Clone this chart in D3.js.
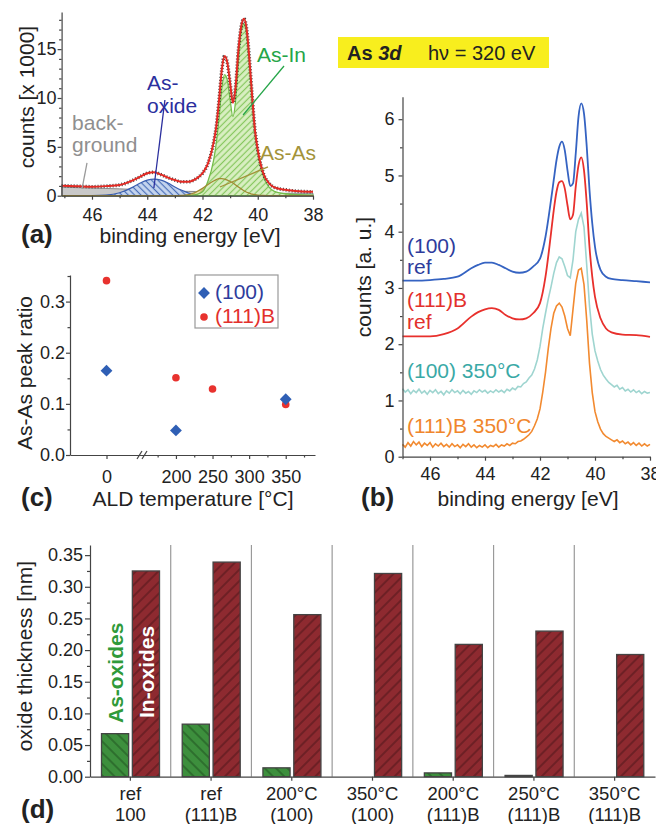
<!DOCTYPE html>
<html>
<head>
<meta charset="utf-8">
<script src="https://cdn.jsdelivr.net/npm/d3@7"></script>
<style>
body { margin: 0; background: #fff; }
text { font-family: "Liberation Sans", Arial, sans-serif; fill: #222; }
.axis path, .axis line { stroke: #444; stroke-width: 1.2; }
.axis text { font-size: 18px; fill: #222; }
</style>
</head>
<body>
<svg id="fig" width="656" height="824"></svg>
<script>
// ---- panel (a): As 3d fit, counts x1000 ----
const energyA = [47.1, 46.5, 46, 45.5, 45, 44.5, 44.25, 44, 43.75, 43.5, 43.25, 43, 42.75, 42.5, 42.25, 42,
    41.8, 41.6, 41.5, 41.4, 41.3, 41.2, 41.1, 41.0, 40.9, 40.8, 40.7, 40.6, 40.5, 40.4, 40.3, 40.2, 40.1, 40.0,
    39.8, 39.6, 39.4, 39, 38.5, 38];
const envelopeA = [1.02, 0.97, 0.92, 0.98, 1.1, 1.6, 1.95, 2.3, 2.4, 2.15, 1.85, 1.6, 1.42, 1.43, 1.7, 2.3,
    3.3, 5.4, 7.1, 9.8, 12.9, 14.3, 13.6, 11.5, 9.5, 11.2, 14.9, 17.3, 18.1, 17.0, 13.9, 10.1, 6.7, 4.7,
    2.3, 1.3, 0.85, 0.6, 0.45, 0.4];
const backgroundA = [0.88, 0.82, 0.78, 0.74, 0.7, 0.64, 0.6, 0.56, 0.53, 0.5, 0.48, 0.46, 0.45, 0.44, 0.43, 0.42,
    0.41, 0.4, 0.39, 0.38, 0.37, 0.36, 0.35, 0.34, 0.33, 0.32, 0.31, 0.3, 0.29, 0.28, 0.27, 0.26, 0.26, 0.25,
    0.25, 0.25, 0.25, 0.25, 0.25, 0.25];
const asOxideA = [0, 0, 0.01, 0.06, 0.3, 0.9, 1.3, 1.6, 1.7, 1.6, 1.3, 0.9, 0.55, 0.27, 0.1, 0.03,
    0.01, 0, 0, 0, 0, 0, 0, 0, 0, 0, 0, 0, 0, 0, 0, 0, 0, 0,
    0, 0, 0, 0, 0, 0];
const asAsA = [0, 0, 0, 0, 0, 0, 0, 0, 0, 0, 0, 0, 0.03, 0.1, 0.35, 0.75,
    1.15, 1.5, 1.65, 1.75, 1.75, 1.7, 1.6, 1.45, 1.3, 1.1, 0.9, 0.7, 0.5, 0.35, 0.25, 0.15, 0.1, 0.06,
    0.02, 0, 0, 0, 0, 0];
const asInA = [0, 0, 0, 0, 0, 0, 0, 0, 0, 0, 0, 0, 0, 0, 0.1, 0.4,
    1.5, 3.6, 5.4, 8.0, 11.0, 12.4, 11.8, 9.8, 8.1, 9.8, 13.8, 16.8, 17.6, 16.5, 13.5, 9.8, 6.5, 4.4,
    2.0, 0.9, 0.45, 0.2, 0.1, 0.05];

// ---- panel (b): stacked spectra, a.u. ----
const ref100 = [3.13, 3.13, 3.14, 3.16, 3.2, 3.35, 3.41, 3.45, 3.45, 3.41, 3.35, 3.29, 3.27, 3.29, 3.38, 3.52,
    3.91, 4.56, 4.92, 5.27, 5.51, 5.6, 5.45, 5.09, 4.81, 4.86, 5.39, 6.04, 6.28, 6.1, 5.51, 4.74, 4.15, 3.73,
    3.32, 3.2, 3.16, 3.14, 3.12, 3.1];
const ref111B = [2.14, 2.14, 2.14, 2.18, 2.28, 2.49, 2.57, 2.62, 2.64, 2.61, 2.52, 2.46, 2.44, 2.46, 2.55, 2.73,
    3.2, 3.97, 4.38, 4.71, 4.88, 4.9, 4.77, 4.47, 4.22, 4.3, 4.8, 5.18, 5.32, 5.09, 4.5, 3.73, 3.2, 2.84,
    2.46, 2.28, 2.21, 2.17, 2.16, 2.13];
// 47.0 eV down to 38.0 eV in 0.1 eV steps
const energyNoisy = d3.range(470, 379, -1).map(d => d / 10);
const t350_100 = [1.21, 1.15, 1.19, 1.12, 1.18, 1.14, 1.20, 1.13, 1.17, 1.11,
    1.18, 1.14, 1.19, 1.12, 1.16, 1.10, 1.17, 1.13, 1.19, 1.14,
    1.17, 1.12, 1.18, 1.13, 1.16, 1.11, 1.17, 1.14, 1.19, 1.15,
    1.18, 1.13, 1.17, 1.14, 1.19, 1.15, 1.18, 1.14, 1.20, 1.17,
    1.22, 1.19, 1.25, 1.24, 1.30, 1.33, 1.40, 1.45, 1.56, 1.72,
    1.96, 2.28, 2.55, 2.80, 3.02, 3.26, 3.45, 3.55, 3.52, 3.38,
    3.22, 3.18, 3.50, 4.00, 4.22, 4.33, 4.08, 3.40, 2.68, 2.18,
    1.88, 1.70, 1.55, 1.45, 1.38, 1.32, 1.28, 1.24, 1.27, 1.20,
    1.23, 1.17, 1.20, 1.15, 1.19, 1.14, 1.17, 1.12, 1.16, 1.13, 1.14];
const t350_111B = [0.22, 0.17, 0.25, 0.19, 0.27, 0.21, 0.26, 0.18, 0.24, 0.20,
    0.25, 0.17, 0.23, 0.19, 0.24, 0.18, 0.22, 0.17, 0.23, 0.18,
    0.21, 0.16, 0.22, 0.18, 0.23, 0.17, 0.21, 0.16, 0.20, 0.17,
    0.21, 0.16, 0.20, 0.18, 0.22, 0.17, 0.21, 0.19, 0.23, 0.20,
    0.24, 0.23, 0.27, 0.28, 0.31, 0.35, 0.39, 0.45, 0.55, 0.67,
    0.85, 1.15, 1.50, 1.92, 2.28, 2.55, 2.68, 2.73, 2.66, 2.50,
    2.28, 2.15, 2.62, 3.08, 3.32, 3.35, 3.06, 2.42, 1.66, 1.14,
    0.80, 0.62, 0.49, 0.41, 0.36, 0.33, 0.30, 0.27, 0.30, 0.25,
    0.28, 0.23, 0.26, 0.21, 0.25, 0.20, 0.24, 0.19, 0.23, 0.19, 0.22];

// ---- panel (c): As-As peak ratio ----
const aldTemp100 = [0, 200, 350];
const ratio100 = [0.165, 0.048, 0.109];
const aldTemp111B = [0, 200, 250, 350];
const ratio111B = [0.341, 0.151, 0.129, 0.099];

// ---- panel (d): oxide thickness [nm] ----
const sampleTop = ["ref", "ref", "200°C", "350°C", "200°C", "250°C", "350°C"];
const sampleBottom = ["100", "(111)B", "(100)", "(100)", "(111)B", "(111)B", "(111)B"];
const asOxides = [0.068, 0.083, 0.014, 0, 0.006, 0.002, 0];
const inOxides = [0.325, 0.339, 0.256, 0.321, 0.209, 0.230, 0.193];

const svg = d3.select("#fig");
const defs = svg.append("defs");

// hatch pattern: background colour plus one line, rotated
function hatch(id, bg, line, angle, gap, lw) {
    const p = defs.append("pattern")
        .attr("id", id)
        .attr("patternUnits", "userSpaceOnUse")
        .attr("width", gap).attr("height", gap)
        .attr("patternTransform", "rotate(" + angle + ")");
    p.append("rect").attr("width", gap).attr("height", gap).attr("fill", bg);
    p.append("line")
        .attr("x1", gap / 2).attr("y1", 0).attr("x2", gap / 2).attr("y2", gap)
        .attr("stroke", line).attr("stroke-width", lw);
}
hatch("hBlue", "#c6d6ef", "#4a6fb8", -45, 4.5, 1.2);
hatch("hGreen", "#d9efc2", "#86c75e", 45, 4.5, 1.2);
hatch("hOlive", "#ebe3ad", "#a8973f", 45, 4, 1.1);
hatch("hAs", "#3d8f3d", "#1f4f1f", -45, 8, 1);
hatch("hIn", "#8e2a30", "#4d1619", 45, 8, 1);

function minorTicks(g, axis) {
    g.append("g").attr("class", "axis").call(axis).call(s => s.select(".domain").remove());
}

// =================== (a) ===================
const xA = d3.scaleLinear().domain([47.1, 38]).range([61.6, 313]);
const yA = d3.scaleLinear().domain([0, 18.8]).range([195.7, 12]);
const gA = svg.append("g");

const areaA = d3.area()
    .x((d, i) => xA(energyA[i]))
    .y0(yA(0))
    .y1(d => yA(d))
    .curve(d3.curveMonotoneX);
const lineA = d3.line()
    .x((d, i) => xA(energyA[i]))
    .y(d => yA(d))
    .curve(d3.curveMonotoneX);

gA.append("path").attr("d", areaA(backgroundA)).attr("fill", "#c9c9c9").attr("stroke", "#8a8a8a").attr("stroke-width", 1);
gA.append("path").attr("d", areaA(asOxideA)).attr("fill", "url(#hBlue)").attr("stroke", "#3a5fb0").attr("stroke-width", 1.2);
gA.append("path").attr("d", areaA(asAsA)).attr("fill", "url(#hOlive)").attr("stroke", "none");
gA.append("path").attr("d", areaA(asInA)).attr("fill", "url(#hGreen)").attr("stroke", "#74bd4a").attr("stroke-width", 1.3);
gA.append("path").attr("d", lineA(asAsA)).attr("fill", "none").attr("stroke", "#a08a32").attr("stroke-width", 1.3);
// measured points (dotted) under the red fit envelope
gA.append("path").attr("d", lineA(envelopeA)).attr("fill", "none")
    .attr("stroke", "#3a3a3a").attr("stroke-width", 3.6).attr("stroke-dasharray", "1,2");
gA.append("path").attr("d", lineA(envelopeA)).attr("fill", "none").attr("stroke", "#e42a24").attr("stroke-width", 2);

gA.append("g").attr("class", "axis").attr("transform", "translate(0," + yA(0) + ")")
    .call(d3.axisBottom(xA).tickValues([46, 44, 42, 40, 38]).tickSize(4).tickSizeOuter(0).tickPadding(9));
minorTicks(gA.append("g").attr("transform", "translate(0," + yA(0) + ")"),
    d3.axisBottom(xA).tickValues([47, 45, 43, 41, 39]).tickSize(2.5).tickFormat(""));
gA.append("g").attr("class", "axis").attr("transform", "translate(" + xA(47.1) + ",0)")
    .call(d3.axisLeft(yA).tickValues([0, 5, 10, 15]).tickSize(4).tickSizeOuter(0).tickPadding(1));
minorTicks(gA.append("g").attr("transform", "translate(" + xA(47.1) + ",0)"),
    d3.axisLeft(yA).tickValues([1, 2, 3, 4, 6, 7, 8, 9, 11, 12, 13, 14, 16, 17, 18]).tickSize(2.5).tickFormat(""));

// annotations (a)
function note(g, x, y, txt, color) {
    g.append("text").attr("x", x).attr("y", y).attr("font-size", 21).style("fill", color).text(txt);
}
function leader(g, x1, y1, x2, y2, color) {
    g.append("line").attr("x1", x1).attr("y1", y1).attr("x2", x2).attr("y2", y2)
        .attr("stroke", color).attr("stroke-width", 1.3);
}
note(gA, xA(40.03), yA(13.68), "As-In", "#25a548");
leader(gA, xA(39.05), yA(13.27), xA(40.53), yA(8.26), "#25a548");
note(gA, xA(44.01), yA(10.82), "As-", "#2b2f9e");
note(gA, xA(44.01), yA(8.46), "oxide", "#2b2f9e");
leader(gA, xA(43.36), yA(9.79), xA(43.76), yA(0.79), "#2b2f9e");
note(gA, xA(46.72), yA(6.72), "back-", "#8f8f8f");
note(gA, xA(46.72), yA(4.47), "ground", "#8f8f8f");
leader(gA, xA(46.18), yA(3.35), xA(46.36), yA(0.69), "#9a9a9a");
note(gA, xA(39.92), yA(3.65), "As-As", "#a39339");
leader(gA, xA(39.63), yA(2.94), xA(41.37), yA(0.89), "#a39339");

gA.append("text").attr("transform", "translate(27,97) rotate(-90)").attr("dy", "0.35em")
    .attr("text-anchor", "middle").attr("font-size", 21).text("counts [x 1000]");
gA.append("text").attr("x", 190).attr("y", 243).attr("text-anchor", "middle").attr("font-size", 21).text("binding energy [eV]");
gA.append("text").attr("x", 21).attr("y", 243).attr("font-size", 26).attr("font-weight", "bold").text("(a)");

// header box
svg.append("rect").attr("x", 338).attr("y", 37).attr("width", 211).attr("height", 31).attr("fill", "#f8ee1e");
const head = svg.append("text").attr("x", 347).attr("y", 59.5).attr("font-size", 20);
head.append("tspan").attr("font-weight", "bold").text("As ");
head.append("tspan").attr("font-weight", "bold").attr("font-style", "italic").text("3d");
svg.append("text").attr("x", 428).attr("y", 59.5).attr("font-size", 20).text("hν = 320 eV");

// =================== (b) ===================
const xB = d3.scaleLinear().domain([47, 38]).range([402.5, 650]);
const yB = d3.scaleLinear().domain([0, 6.4]).range([456.7, 96.7]);
const gB = svg.append("g");

const smoothB = d3.line().x((d, i) => xB(energyA[i] > 47 ? 47 : energyA[i])).y(d => yB(d)).curve(d3.curveMonotoneX);
const noisyB = d3.line().x((d, i) => xB(energyNoisy[i])).y(d => yB(d));

gB.append("path").attr("d", noisyB(t350_111B)).attr("fill", "none").attr("stroke", "#f28a30").attr("stroke-width", 1.6);
gB.append("path").attr("d", noisyB(t350_100)).attr("fill", "none").attr("stroke", "#9fd5d0").attr("stroke-width", 1.6);
gB.append("path").attr("d", smoothB(ref111B)).attr("fill", "none").attr("stroke", "#e8302c").attr("stroke-width", 1.8);
gB.append("path").attr("d", smoothB(ref100)).attr("fill", "none").attr("stroke", "#3563c2").attr("stroke-width", 1.8);

gB.append("g").attr("class", "axis").attr("transform", "translate(0," + yB(0) + ")")
    .call(d3.axisBottom(xB).tickValues([46, 44, 42, 40, 38]).tickSize(4).tickSizeOuter(0).tickPadding(7));
minorTicks(gB.append("g").attr("transform", "translate(0," + yB(0) + ")"),
    d3.axisBottom(xB).tickValues([47, 45, 43, 41, 39]).tickSize(2.5).tickFormat(""));
gB.append("g").attr("class", "axis").attr("transform", "translate(" + xB(47) + ",0)")
    .call(d3.axisLeft(yB).tickValues([0, 1, 2, 3, 4, 5, 6]).tickFormat(d3.format("d"))
        .tickSize(4).tickSizeOuter(0).tickPadding(4));
minorTicks(gB.append("g").attr("transform", "translate(" + xB(47) + ",0)"),
    d3.axisLeft(yB).tickValues([0.5, 1.5, 2.5, 3.5, 4.5, 5.5]).tickSize(2.5).tickFormat(""));

note(gB, 407, 253, "(100)", "#2e3c9c");
note(gB, 407, 274, "ref", "#2e3c9c");
note(gB, 407, 307, "(111)B", "#e3302c");
note(gB, 407, 329, "ref", "#e3302c");
note(gB, 407, 378, "(100) 350°C", "#3aa9a6");
note(gB, 407, 433, "(111)B 350°C", "#f0862c");

gB.append("text").attr("transform", "translate(364,277) rotate(-90)").attr("dy", "0.35em")
    .attr("text-anchor", "middle").attr("font-size", 21).text("counts [a. u.]");
gB.append("text").attr("x", 528).attr("y", 506).attr("text-anchor", "middle").attr("font-size", 21).text("binding energy [eV]");
gB.append("text").attr("x", 361).attr("y", 506).attr("font-size", 26).attr("font-weight", "bold").text("(b)");

// =================== (c) ===================
const xC = d3.scaleLinear().domain([-50, 50, 155, 390]).range([70, 143, 143, 315]);
const yC = d3.scaleLinear().domain([0, 0.352]).range([455, 275]);
const gC = svg.append("g");

gC.append("g").attr("class", "axis").attr("transform", "translate(0," + yC(0) + ")")
    .call(d3.axisBottom(xC).tickValues([0, 200, 250, 300, 350]).tickSize(4).tickSizeOuter(0).tickPadding(11));
minorTicks(gC.append("g").attr("transform", "translate(0," + yC(0) + ")"),
    d3.axisBottom(xC).tickValues([175, 225, 275, 325, 375]).tickSize(2.5).tickFormat(""));
gC.append("g").attr("class", "axis").attr("transform", "translate(70,0)")
    .call(d3.axisLeft(yC).tickValues([0, 0.1, 0.2, 0.3]).tickFormat(d3.format(".1f")).tickSize(4).tickSizeOuter(0).tickPadding(1));
minorTicks(gC.append("g").attr("transform", "translate(70,0)"),
    d3.axisLeft(yC).tickValues([0.05, 0.15, 0.25, 0.35]).tickSize(2.5).tickFormat(""));

// axis break
[139.5, 144.5].forEach(bx => {
    gC.append("line").attr("x1", bx - 2.5).attr("y1", yC(0) + 4).attr("x2", bx + 2.5).attr("y2", yC(0) - 4)
        .attr("stroke", "#444").attr("stroke-width", 1.2);
});

const diamond = d3.symbol(d3.symbolSquare, 70);
gC.selectAll(".p111").data(aldTemp111B).enter().append("circle")
    .attr("cx", d => xC(d)).attr("cy", (d, i) => yC(ratio111B[i])).attr("r", 3.8).attr("fill", "#e8322e");
gC.selectAll(".p100").data(aldTemp100).enter().append("path")
    .attr("transform", (d, i) => "translate(" + xC(d) + "," + yC(ratio100[i]) + ") rotate(45)")
    .attr("d", diamond).attr("fill", "#2f5fb5");

gC.append("rect").attr("x", 195).attr("y", 275).attr("width", 83).attr("height", 53)
    .attr("fill", "#fff").attr("stroke", "#999").attr("stroke-width", 1.2);
gC.append("path").attr("transform", "translate(204,293) rotate(45)").attr("d", diamond).attr("fill", "#2f5fb5");
gC.append("circle").attr("cx", 204).attr("cy", 317).attr("r", 3.8).attr("fill", "#e8322e");
note(gC, 215, 299, "(100)", "#2e3c9c");
note(gC, 215, 323, "(111)B", "#e3302c");

gC.append("text").attr("transform", "translate(25,373) rotate(-90)").attr("dy", "0.35em")
    .attr("text-anchor", "middle").attr("font-size", 21).text("As-As peak ratio");
gC.append("text").attr("x", 193).attr("y", 506).attr("text-anchor", "middle").attr("font-size", 21).text("ALD temperature [°C]");
gC.append("text").attr("x", 21).attr("y", 506).attr("font-size", 26).attr("font-weight", "bold").text("(c)");

// =================== (d) ===================
const xD = d3.scaleBand().domain(sampleTop.map((d, i) => i)).range([90, 655]);
const inner = d3.scaleBand().domain(["As", "In"]).range([11.5, 69.5]).paddingInner(0.12);
const yD = d3.scaleLinear().domain([0, 0.366]).range([776.7, 545]);
const gD = svg.append("g");

// group separators
gD.selectAll(".sep").data(xD.domain().slice(1)).enter().append("line")
    .attr("x1", d => xD(d)).attr("x2", d => xD(d)).attr("y1", yD(0)).attr("y2", 545)
    .attr("stroke", "#9a9a9a").attr("stroke-width", 1.2);

const asBars = asOxides.map((v, i) => ({ v: v, i: i })).filter(d => d.v > 0);
gD.selectAll(".barAs").data(asBars).enter().append("rect")
    .attr("x", d => xD(d.i) + inner("As"))
    .attr("y", d => yD(d.v)).attr("width", inner.bandwidth()).attr("height", d => yD(0) - yD(d.v))
    .attr("fill", "url(#hAs)").attr("stroke", "#444").attr("stroke-width", 1.3);
gD.selectAll(".barIn").data(inOxides).enter().append("rect")
    .attr("x", (d, i) => xD(i) + inner("In"))
    .attr("y", d => yD(d)).attr("width", inner.bandwidth()).attr("height", d => yD(0) - yD(d))
    .attr("fill", "url(#hIn)").attr("stroke", "#444").attr("stroke-width", 1.3);

gD.append("g").attr("class", "axis").attr("transform", "translate(0," + yD(0) + ")")
    .call(d3.axisBottom(xD).tickSize(4).tickSizeOuter(0).tickFormat(""));
gD.append("g").attr("class", "axis").attr("transform", "translate(90,0)")
    .call(d3.axisLeft(yD).tickValues([0, 0.05, 0.1, 0.15, 0.2, 0.25, 0.3, 0.35]).tickFormat(d3.format(".2f"))
        .tickSize(5).tickSizeOuter(0).tickPadding(2));
minorTicks(gD.append("g").attr("transform", "translate(90,0)"),
    d3.axisLeft(yD).tickValues([0.025, 0.075, 0.125, 0.175, 0.225, 0.275, 0.325]).tickSize(3).tickFormat(""));

gD.selectAll(".lab1").data(sampleTop).enter().append("text")
    .attr("x", (d, i) => xD(i) + xD.bandwidth() / 2).attr("y", 800)
    .attr("text-anchor", "middle").attr("font-size", 18.5).text(d => d);
gD.selectAll(".lab2").data(sampleBottom).enter().append("text")
    .attr("x", (d, i) => xD(i) + xD.bandwidth() / 2).attr("y", 821)
    .attr("text-anchor", "middle").attr("font-size", 18.5).text(d => d);

gD.append("text").attr("transform", "translate(" + (xD(0) + inner("As") + 21) + ",723) rotate(-90)")
    .attr("font-size", 21).attr("font-weight", "bold").style("fill", "#2f9a3a").text("As-oxides");
gD.append("text").attr("transform", "translate(" + (xD(0) + inner("In") + 22) + ",718) rotate(-90)")
    .attr("font-size", 21).attr("font-weight", "bold").style("fill", "#ffffff").text("In-oxides");

gD.append("text").attr("transform", "translate(25,656) rotate(-90)").attr("dy", "0.35em")
    .attr("text-anchor", "middle").attr("font-size", 21).text("oxide thickness [nm]");
gD.append("text").attr("x", 21).attr("y", 818).attr("font-size", 26).attr("font-weight", "bold").text("(d)");
</script>
</body>
</html>
